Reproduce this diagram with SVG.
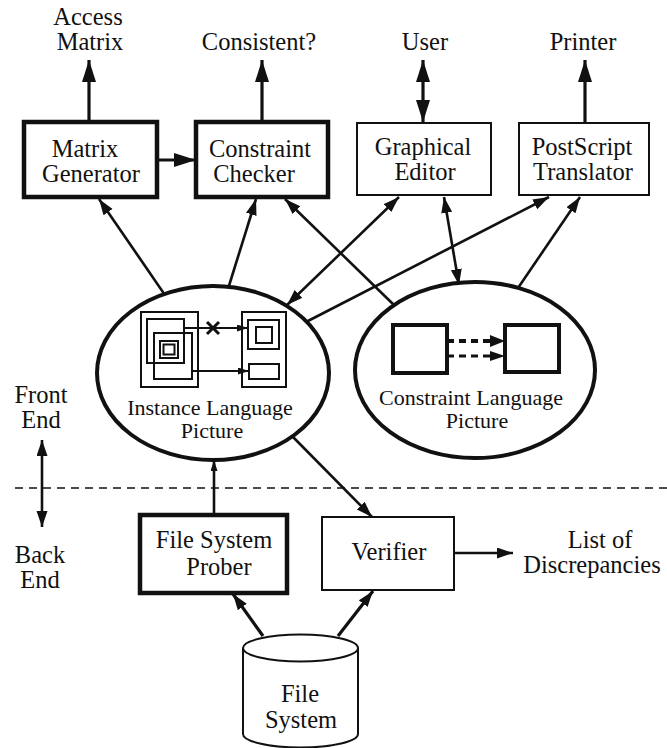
<svg xmlns="http://www.w3.org/2000/svg" width="667" height="748" viewBox="0 0 667 748" font-family="'Liberation Serif', 'Times New Roman', serif">
  <style>
    text { font-family: "Liberation Serif", "Times New Roman", serif; font-size: 24.5px; fill: #111; text-anchor: middle; }
    .small { font-size: 22px; }
    .box { fill: #fff; stroke: #111; }
    .thick { stroke-width: 4.5; }
    .thin { stroke-width: 2; }
    .ell { fill: #fff; stroke: #111; stroke-width: 4; }
    .conn { fill: none; stroke: #111; stroke-width: 2.6; }
    .heavy { stroke-width: 3.2; }
    .pic { fill: none; stroke: #111; stroke-width: 2; }
    .picthick { fill: none; stroke: #111; stroke-width: 4; }
  </style>
  <defs>
    <marker id="big" markerUnits="userSpaceOnUse" markerWidth="24" markerHeight="16" refX="22" refY="7" orient="auto-start-reverse">
      <path d="M0,0 L22,7 L0,14 z" fill="#111"/>
    </marker>
    <marker id="mid" markerUnits="userSpaceOnUse" markerWidth="18" markerHeight="12" refX="16" refY="5.5" orient="auto-start-reverse">
      <path d="M0,0 L16,5.5 L0,11 z" fill="#111"/>
    </marker>
    <marker id="tiny" markerUnits="userSpaceOnUse" markerWidth="12" markerHeight="8" refX="11" refY="3.5" orient="auto-start-reverse">
      <path d="M0,0 L11,3.5 L0,7 z" fill="#111"/>
    </marker>
  </defs>

  <!-- connectors -->
  <g id="connectors">
    <!-- outputs at the top -->
    <line class="conn heavy" x1="89" y1="122" x2="89" y2="60" marker-end="url(#big)"/>
    <line class="conn heavy" x1="262" y1="122" x2="262" y2="60" marker-end="url(#big)"/>
    <line class="conn heavy" x1="423" y1="122" x2="423" y2="60" marker-start="url(#big)" marker-end="url(#big)"/>
    <line class="conn heavy" x1="585" y1="122" x2="585" y2="60" marker-end="url(#big)"/>
    <line class="conn heavy" x1="157" y1="160" x2="196" y2="160" marker-end="url(#big)"/>
    <!-- pictures to tools -->
    <line class="conn" x1="167" y1="298" x2="99" y2="199" marker-end="url(#mid)"/>
    <line class="conn" x1="228" y1="289" x2="256" y2="199" marker-end="url(#mid)"/>
    <line class="conn" x1="394" y1="305" x2="285" y2="199" marker-end="url(#mid)"/>
    <line class="conn" x1="399" y1="197" x2="287" y2="305" marker-start="url(#mid)" marker-end="url(#mid)"/>
    <line class="conn" x1="444" y1="197" x2="459" y2="285" marker-start="url(#mid)" marker-end="url(#mid)"/>
    <line class="conn" x1="306" y1="322" x2="549" y2="197" marker-end="url(#mid)"/>
    <line class="conn" x1="518" y1="288" x2="580" y2="197" marker-end="url(#mid)"/>
    <!-- back end -->
    <line class="conn" x1="214" y1="515" x2="214" y2="460" marker-end="url(#tiny)"/>
    <line class="conn" x1="293" y1="437" x2="372" y2="517" marker-end="url(#mid)"/>
    <line class="conn" x1="454" y1="553" x2="513" y2="553" marker-end="url(#mid)"/>
    <line class="conn heavy" x1="263" y1="636" x2="233" y2="594" marker-end="url(#mid)"/>
    <line class="conn heavy" x1="338" y1="636" x2="373" y2="591" marker-end="url(#mid)"/>
    <!-- front end / back end divider -->
    <line x1="15" y1="488" x2="667" y2="488" stroke="#111" stroke-width="1.6" stroke-dasharray="8,6"/>
    <line class="conn" x1="42" y1="440" x2="42" y2="527" marker-start="url(#mid)" marker-end="url(#mid)"/>
  </g>

  <!-- top labels -->
  <g id="out-access">
    <text x="88" y="25">Access</text>
    <text x="90" y="50">Matrix</text>
  </g>
  <g id="out-consistent"><text x="259" y="50">Consistent?</text></g>
  <g id="out-user"><text x="425" y="50">User</text></g>
  <g id="out-printer"><text x="583" y="50">Printer</text></g>

  <!-- tool boxes -->
  <g id="matrix-generator">
    <rect class="box thick" x="24" y="122" width="133" height="75"/>
    <text x="85" y="157">Matrix</text>
    <text x="91" y="182">Generator</text>
  </g>
  <g id="constraint-checker">
    <rect class="box thick" x="196" y="122" width="132" height="75"/>
    <text x="260" y="157">Constraint</text>
    <text x="254" y="182">Checker</text>
  </g>
  <g id="graphical-editor">
    <rect class="box thin" x="357" y="123" width="134" height="72"/>
    <text x="423" y="155">Graphical</text>
    <text x="425" y="180">Editor</text>
  </g>
  <g id="postscript-translator">
    <rect class="box thin" x="519" y="123" width="130" height="72"/>
    <text x="582" y="155">PostScript</text>
    <text x="583" y="180">Translator</text>
  </g>

  <!-- instance language picture -->
  <g id="instance-picture">
    <ellipse class="ell" cx="213" cy="373" rx="116" ry="87"/>
    <rect class="pic" x="141" y="312" width="57" height="75"/>
    <rect class="pic" x="147" y="319" width="37" height="44"/>
    <rect class="pic" x="154" y="333" width="38" height="46"/>
    <rect class="pic" x="160" y="341" width="18" height="17"/>
    <rect class="pic" x="163.5" y="344.5" width="11" height="10"/>
    <rect class="pic" x="242" y="312" width="44" height="75"/>
    <rect class="pic" x="248" y="320" width="31" height="29"/>
    <rect class="pic" x="256" y="327" width="16" height="16"/>
    <rect class="pic" x="249" y="364" width="30" height="15"/>
    <line class="pic" x1="184" y1="328" x2="248" y2="328" marker-end="url(#tiny)"/>
    <line class="pic" x1="192" y1="371" x2="249" y2="371" marker-end="url(#tiny)"/>
    <path d="M207,322 L219,334 M219,322 L207,334" stroke="#111" stroke-width="3" fill="none"/>
    <text class="small" x="210" y="415">Instance Language</text>
    <text class="small" x="212" y="438">Picture</text>
  </g>

  <!-- constraint language picture -->
  <g id="constraint-picture">
    <ellipse class="ell" cx="475" cy="370" rx="120" ry="88"/>
    <rect class="picthick" x="393" y="325" width="54" height="48"/>
    <rect class="picthick" x="505" y="325" width="54" height="47"/>
    <line x1="447" y1="341" x2="492" y2="341" stroke="#111" stroke-width="4" stroke-dasharray="7,5"/>
    <line x1="447" y1="356" x2="492" y2="356" stroke="#111" stroke-width="3" stroke-dasharray="7,5"/>
    <path d="M490,335 L505,341 L490,347 z" fill="#111"/>
    <path d="M490,351 L505,356 L490,361 z" fill="#111"/>
    <text class="small" x="471" y="405">Constraint Language</text>
    <text class="small" x="477" y="428">Picture</text>
  </g>

  <!-- side labels -->
  <g id="front-end">
    <text x="41" y="403">Front</text>
    <text x="41" y="428">End</text>
  </g>
  <g id="back-end">
    <text x="40" y="563">Back</text>
    <text x="40" y="588">End</text>
  </g>

  <!-- back end boxes -->
  <g id="file-system-prober">
    <rect class="box thick" x="140" y="515" width="147" height="78"/>
    <text x="214" y="548">File System</text>
    <text x="219" y="575">Prober</text>
  </g>
  <g id="verifier">
    <rect class="box thin" x="322" y="517" width="132" height="73"/>
    <text x="389" y="560">Verifier</text>
  </g>
  <g id="list-of-discrepancies">
    <text x="600" y="548">List of</text>
    <text x="592" y="573">Discrepancies</text>
  </g>

  <!-- file system store -->
  <g id="file-system">
    <path d="M243,648 L243,734 A57.5,13.5 0 0 0 358,734 L358,648" fill="#fff" stroke="#111" stroke-width="2"/>
    <ellipse cx="300.5" cy="648" rx="57.5" ry="13.5" fill="#fff" stroke="#111" stroke-width="2"/>
    <text x="300" y="702">File</text>
    <text x="301" y="728">System</text>
  </g>
</svg>
